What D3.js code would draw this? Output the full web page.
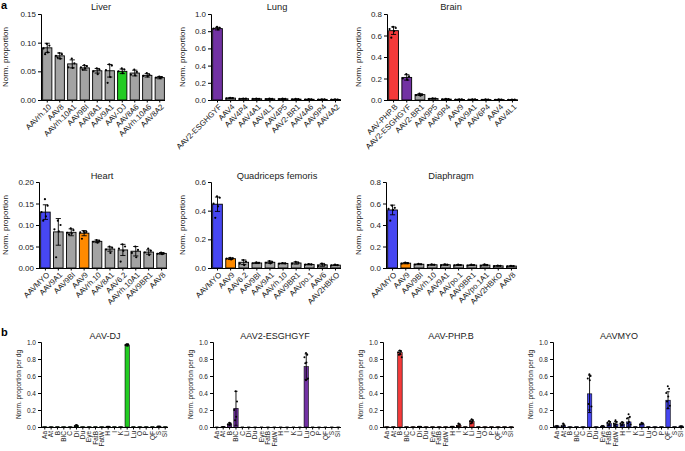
<!DOCTYPE html>
<html><head><meta charset="utf-8">
<script src="https://cdn.jsdelivr.net/npm/d3@7"></script>
<style>body{margin:0;background:#fff}svg{display:block;font-family:"Liberation Sans",Arial,sans-serif}</style>
</head><body><svg id="c" width="685" height="451"></svg>
<script>
// ---------- DATA ----------
const liverCats = ["AAVrh.10","AAV8","AAVrh.10A1","AAV9BI","AAV8A1","AAV9A1","AAV-DJ","AAV8A6","AAVrh.10A6","AAV8A2"];
const liverVals = [0.091,0.077,0.063,0.056,0.051,0.051,0.050,0.047,0.043,0.039];
const liverSd   = [0.008,0.005,0.007,0.004,0.004,0.011,0.004,0.005,0.003,0.002];
const liverDots = [[0.098,0.095,0.090,0.083,0.080],[0.082,0.080,0.077,0.072,0.074],[0.072,0.064,0.057,0.056],[0.061,0.059,0.057,0.055,0.053],[0.055,0.053,0.050,0.045],[0.062,0.060,0.052,0.040,0.030],[0.055,0.053,0.050,0.047],[0.053,0.049,0.044,0.043],[0.047,0.044,0.042,0.041],[0.041,0.040,0.039,0.038]];

const lungCats = ["AAV2-ESGHGYF","AAV4","AAV4P4","AAV4A1","AAV4L1","AAV4P5","AAV2-BR1","AAV4A6","AAV9P4","AAV4A2"];
const lungVals = [0.83,0.022,0.015,0.014,0.013,0.013,0.010,0.008,0.007,0.006];
const lungSd   = [0.015,0.004,0.003,0.003,0.003,0.003,0.002,0.002,0.002,0.002];
const lungDots = [[0.85,0.84,0.83,0.82],[0.025,0.022,0.02],[0.017,0.015,0.013],[0.016,0.014,0.012],[0.015,0.013,0.011],[0.015,0.013,0.011],[0.012,0.01,0.008],[0.01,0.008,0.006],[0.009,0.007,0.005],[0.008,0.006,0.004]];

const brainCats = ["AAV-PHP.B","AAV2-ESGHGYF","AAV2-BR1","AAV9P5","AAV9P4","AAV9","AAV9A1","AAV6P4","AAV4","AAV4L1"];
const brainVals = [0.645,0.21,0.05,0.013,0.008,0.005,0.005,0.004,0.004,0.003];
const brainSd   = [0.035,0.025,0.008,0.003,0.002,0.002,0.002,0.002,0.002,0.001];
const brainDots = [[0.68,0.67,0.66,0.64,0.58],[0.24,0.22,0.2,0.19],[0.06,0.05,0.045,0.04],[0.015,0.013,0.011],[0.01,0.008,0.006],[0.007,0.005,0.003],[0.007,0.005,0.003],[0.006,0.004,0.002],[0.006,0.004,0.002],[0.004,0.003,0.002]];

const heartCats = ["AAVMYO","AAV9A1","AAV9BI","AAV9","AAVrh.10","AAV8A1","AAV6.2","AAVrh.10A1","AAV9BR1","AAV8"];
const heartVals = [0.13,0.084,0.083,0.081,0.062,0.044,0.042,0.039,0.037,0.034];
const heartSd   = [0.017,0.031,0.008,0.006,0.003,0.005,0.013,0.011,0.005,0.002];
const heartDots = [[0.16,0.145,0.13,0.12,0.11],[0.11,0.10,0.09,0.085,0.025],[0.092,0.088,0.082,0.08,0.078],[0.085,0.084,0.083,0.082,0.068],[0.065,0.063,0.061,0.059],[0.05,0.047,0.043,0.035],[0.055,0.05,0.045,0.04,0.015],[0.05,0.042,0.035,0.025],[0.045,0.04,0.036,0.03],[0.036,0.034,0.033,0.032]];

const quadCats = ["AAVMYO","AAV9","AAV6.2","AAV9BI","AAV9A1","AAVrh.10","AAV9BR1","AAVpo.1","AAV6","AAV2HBKO"];
const quadVals = [0.445,0.065,0.04,0.035,0.04,0.032,0.035,0.025,0.022,0.02];
const quadSd   = [0.05,0.006,0.016,0.004,0.008,0.003,0.008,0.003,0.01,0.003];
const quadDots = [[0.5,0.49,0.45,0.43,0.35],[0.07,0.068,0.065,0.06],[0.055,0.045,0.03,0.02],[0.039,0.036,0.033],[0.048,0.042,0.036,0.032],[0.035,0.032,0.03],[0.043,0.036,0.03],[0.028,0.025,0.023],[0.03,0.022,0.014],[0.023,0.02,0.018]];

const diaCats = ["AAVMYO","AAV9","AAV9BI","AAVrh.10","AAV9A1","AAVpo.1","AAV9BR1","AAVpo.1A1","AAV2HBKO","AAV8"];
const diaVals = [0.54,0.045,0.035,0.03,0.03,0.028,0.027,0.027,0.02,0.018];
const diaSd   = [0.045,0.006,0.004,0.004,0.005,0.004,0.004,0.006,0.003,0.003];
const diaDots = [[0.58,0.56,0.55,0.54,0.44],[0.05,0.045,0.04],[0.038,0.035,0.032],[0.034,0.03,0.026],[0.035,0.03,0.025],[0.032,0.028,0.024],[0.031,0.027,0.023],[0.033,0.027,0.021],[0.023,0.02,0.017],[0.021,0.018,0.015]];

const organCats = ["Aa","At","B","BIC","C","Di","Du","Eye","FatB","FatW","H","I","K","Li","Lu","O","P","QF","S","SI"];
const djVals  = [0.002,0.002,0.002,0.002,0.002,0.015,0.002,0.002,0.002,0.002,0.005,0.002,0.002,0.965,0.002,0.002,0.002,0.002,0.008,0.002];
const djSd    = [0,0,0,0,0,0.008,0,0,0,0,0.003,0,0,0.012,0,0,0,0,0.004,0];
const esgVals = [0,0.003,0.035,0.22,0,0,0,0,0,0,0,0,0,0,0.71,0,0,0,0,0];
const esgSd   = [0,0.002,0.012,0.2,0,0,0,0,0,0,0,0,0,0,0.15,0,0,0,0,0];
const phpVals = [0.002,0.002,0.875,0.002,0.002,0.005,0.002,0.002,0.002,0.002,0.005,0.02,0.002,0.065,0.002,0.002,0.002,0.002,0.002,0.002];
const phpSd   = [0,0,0.025,0,0,0.003,0,0,0,0,0.003,0.015,0,0.02,0,0,0,0,0,0];
const myoVals = [0.012,0.015,0.002,0.002,0.002,0.39,0.002,0.01,0.04,0.035,0.035,0.06,0.002,0.035,0.002,0.002,0.002,0.315,0.002,0.01];
const myoSd   = [0.006,0.02,0,0,0,0.22,0,0.008,0.025,0.03,0.02,0.05,0,0.01,0,0,0,0.1,0,0.005];
const djDots  = {13:[0.975,0.97,0.965,0.96], 5:[0.025,0.015,0.01]};
const esgDots = {2:[0.05,0.04,0.03,0.025], 3:[0.42,0.3,0.2,0.12,0.08], 14:[0.87,0.85,0.82,0.76,0.75,0.57,0.55]};
const phpDots = {2:[0.9,0.89,0.88,0.86,0.85,0.82], 11:[0.04,0.03,0.01], 13:[0.09,0.08,0.07,0.06,0.04]};
const myoDots = {1:[0.04,0.02,0.01], 5:[0.62,0.6,0.57,0.55,0.27,0.24,0.2], 8:[0.07,0.06,0.05,0.03,0.02], 9:[0.08,0.06,0.04,0.03,0.02], 10:[0.06,0.05,0.04,0.03,0.02], 11:[0.15,0.12,0.1,0.06,0.04,0.03], 13:[0.05,0.04,0.03], 17:[0.48,0.45,0.4,0.36,0.3,0.25,0.22]};

// ---------- COLORS ----------
const GRAY="#a3a3a3", GREEN="#22cc22", PURPLE="#7232a3", RED="#f43a3a", BLUE="#4747f2", ORANGE="#ff8a00";

const svg = d3.select("#c");

function panel(o){
  const g = svg.append("g");
  const y = d3.scaleLinear().domain([0,o.ymax]).range([o.yb,o.yt]);
  const x = d3.scaleBand().domain(o.cats).range([o.x0+1,o.x1]).paddingInner(o.pin).paddingOuter(o.pout);
  o.cats.forEach((c,i)=>{
    const v=o.vals[i];
    g.append("rect").attr("x",x(c)).attr("width",x.bandwidth())
      .attr("y",y(v)).attr("height",Math.max(0,o.yb-y(v)))
      .attr("fill",o.colors[i]||GRAY).attr("stroke","#000").attr("stroke-width",o.small?0.6:0.9);
  });
  o.cats.forEach((c,i)=>{
    const cx=x(c)+x.bandwidth()/2, v=o.vals[i], s=o.sd[i], cw=o.cap;
    const hi=y(v+s), lo=y(Math.max(0,v-s));
    g.append("line").attr("x1",cx).attr("x2",cx).attr("y1",hi).attr("y2",lo).attr("stroke","#000").attr("stroke-width",0.9);
    g.append("line").attr("x1",cx-cw).attr("x2",cx+cw).attr("y1",hi).attr("y2",hi).attr("stroke","#000").attr("stroke-width",0.9);
    if(s>0) g.append("line").attr("x1",cx-cw).attr("x2",cx+cw).attr("y1",lo).attr("y2",lo).attr("stroke","#000").attr("stroke-width",0.9);
  });
  o.cats.forEach((c,i)=>{
    const d=o.dots[i]; if(!d) return;
    const bw=x.bandwidth();
    d.forEach((v,j)=>{
      const off=(j%2? 1:-1)*((j%3)*0.18+0.05)*bw;
      g.append("circle").attr("cx",x(c)+bw/2+off).attr("cy",y(v)).attr("r",o.small?1:1.1).attr("fill","#000");
    });
  });
  const ya = d3.axisLeft(y).tickValues(o.ticks).tickFormat(d3.format(o.fmt)).tickSize(3).tickPadding(2);
  const yg = g.append("g").attr("transform",`translate(${o.x0},0)`).call(ya);
  yg.select(".domain").attr("stroke-width",1);
  yg.selectAll("text").attr("font-size",o.tfs).attr("fill","#222");
  const xa = d3.axisBottom(x).tickSize(2.5).tickSizeOuter(0).tickPadding(2);
  const xg = g.append("g").attr("transform",`translate(0,${o.yb})`).call(xa);
  xg.select(".domain").attr("d",`M${o.x0},0.5H${o.x1}`).attr("stroke-width",1);
  if(o.small){
    xg.selectAll("text").attr("font-size",o.xfs).attr("fill","#222")
      .attr("x",0).attr("y",0).attr("dx",-4).attr("dy","0.35em")
      .attr("transform","rotate(-90)").attr("text-anchor","end");
  } else {
    xg.selectAll("text").attr("font-size",o.xfs).attr("fill","#222")
      .attr("transform","rotate(-45)").attr("text-anchor","end").attr("dx","-2").attr("dy","0.5em");
  }
  g.append("text").attr("x",o.tx).attr("y",o.ty).attr("text-anchor","middle").attr("font-size",o.titfs).attr("font-weight","normal").attr("fill","#222").text(o.title);
  g.append("text").attr("transform",`translate(${o.lx},${(o.yt+o.yb)/2}) rotate(-90)`).attr("text-anchor","middle")
    .attr("font-size",o.lfs).attr("fill","#222").text(o.ylabel);
}

function colorArr(n,map){ const a=new Array(n).fill(GRAY); Object.entries(map).forEach(([k,v])=>a[k]=v); return a; }

const topCommon = {pin:0.26,pout:0.05,cap:2.6,tfs:8,xfs:7.8,titfs:9.3,lfs:8,ylabel:"Norm. proportion"};
panel({...topCommon,title:"Liver",tx:101,ty:10,cats:liverCats,vals:liverVals,sd:liverSd,dots:liverDots,colors:colorArr(10,{6:GREEN}),
  x0:41,x1:165,yt:14,yb:100,ymax:0.15,ticks:[0,0.05,0.10,0.15],fmt:".2f",lx:8});
panel({...topCommon,title:"Lung",tx:277,ty:10,cats:lungCats,vals:lungVals,sd:lungSd,dots:lungDots,colors:colorArr(10,{0:PURPLE}),
  x0:211,x1:341,yt:14,yb:100,ymax:1.0,ticks:[0,0.2,0.4,0.6,0.8,1.0],fmt:".1f",lx:185});
panel({...topCommon,title:"Brain",tx:451,ty:10,cats:brainCats,vals:brainVals,sd:brainSd,dots:brainDots,colors:colorArr(10,{0:RED,1:PURPLE}),
  x0:387,x1:518,yt:14,yb:100,ymax:0.8,ticks:[0,0.2,0.4,0.6,0.8],fmt:".1f",lx:361});
panel({...topCommon,title:"Heart",tx:102,ty:179,cats:heartCats,vals:heartVals,sd:heartSd,dots:heartDots,colors:colorArr(10,{0:BLUE,3:ORANGE}),
  x0:39,x1:167,yt:182,yb:268,ymax:0.20,ticks:[0,0.05,0.10,0.15,0.20],fmt:".2f",lx:8});
panel({...topCommon,title:"Quadriceps femoris",tx:277,ty:179,cats:quadCats,vals:quadVals,sd:quadSd,dots:quadDots,colors:colorArr(10,{0:BLUE,1:ORANGE}),
  x0:211,x1:341,yt:182,yb:268,ymax:0.6,ticks:[0,0.2,0.4,0.6],fmt:".1f",lx:185});
panel({...topCommon,title:"Diaphragm",tx:451,ty:179,cats:diaCats,vals:diaVals,sd:diaSd,dots:diaDots,colors:colorArr(10,{0:BLUE,1:ORANGE}),
  x0:386,x1:517,yt:182,yb:268,ymax:0.8,ticks:[0,0.2,0.4,0.6,0.8],fmt:".1f",lx:361});

const botCommon = {small:true,pin:0.32,pout:0.1,cap:1.6,tfs:6.5,xfs:6.5,titfs:9,lfs:6.5,ylabel:"Norm. proportion per dg",
  yt:342,yb:427,ymax:1.0,ticks:[0,0.2,0.4,0.6,0.8,1.0],fmt:".1f",ty:339};
function dotsArr(m){ return organCats.map((_,i)=>m[i]||null); }
panel({...botCommon,title:"AAV-DJ",tx:105,cats:organCats,vals:djVals,sd:djSd,dots:dotsArr(djDots),colors:new Array(20).fill(GREEN),x0:41,x1:168,lx:21});
panel({...botCommon,title:"AAV2-ESGHGYF",tx:275,cats:organCats,vals:esgVals,sd:esgSd,dots:dotsArr(esgDots),colors:new Array(20).fill(PURPLE),x0:213,x1:341,lx:193});
panel({...botCommon,title:"AAV-PHP.B",tx:451,cats:organCats,vals:phpVals,sd:phpSd,dots:dotsArr(phpDots),colors:new Array(20).fill(RED),x0:383,x1:514,lx:363});
panel({...botCommon,title:"AAVMYO",tx:619,cats:organCats,vals:myoVals,sd:myoSd,dots:dotsArr(myoDots),colors:new Array(20).fill(BLUE),x0:553,x1:684,lx:533});

svg.append("text").attr("x",1).attr("y",9).attr("font-size",11).attr("font-weight","bold").text("a");
svg.append("text").attr("x",1).attr("y",336).attr("font-size",11).attr("font-weight","bold").text("b");
</script></body></html>
